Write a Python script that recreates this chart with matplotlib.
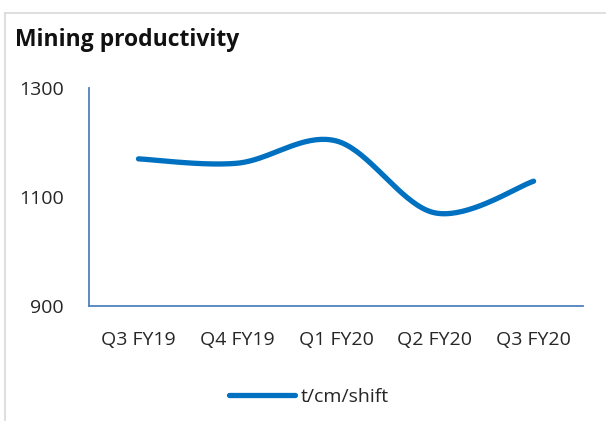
import matplotlib
matplotlib.use("Agg")
import matplotlib.pyplot as plt
from matplotlib.lines import Line2D
import numpy as np

# data
quarters = ["Q3 FY19", "Q4 FY19", "Q1 FY20", "Q2 FY20", "Q3 FY20"]
productivity = [1170, 1162, 1203, 1071, 1129]
series_label = "t/cm/shift"
y_ticks = [900, 1100, 1300]

LINE_COLOR = "#0070C0"
SPINE_COLOR = "#4F81BD"
plt.rcParams["font.family"] = ["Open Sans", "DejaVu Sans"]


def smooth_curve(xs, ys, n=40):
    """Catmull-Rom style bezier smoothing, like a spreadsheet 'smoothed line'"""
    xs = np.asarray(xs, float)
    ys = np.asarray(ys, float)
    px = np.concatenate([[xs[0]], xs, [xs[-1]]])
    py = np.concatenate([[ys[0]], ys, [ys[-1]]])
    out_x, out_y = [], []
    t = np.linspace(0, 1, n)
    for i in range(1, len(px) - 2):
        p0 = np.array([px[i], py[i]])
        p3 = np.array([px[i + 1], py[i + 1]])
        c1 = p0 + (np.array([px[i + 1], py[i + 1]]) - np.array([px[i - 1], py[i - 1]])) / 6
        c2 = p3 - (np.array([px[i + 2], py[i + 2]]) - np.array([px[i], py[i]])) / 6
        b = ((1 - t) ** 3)[:, None] * p0 + (3 * (1 - t) ** 2 * t)[:, None] * c1 \
            + (3 * (1 - t) * t ** 2)[:, None] * c2 + (t ** 3)[:, None] * p3
        out_x.extend(b[:, 0])
        out_y.extend(b[:, 1])
    return np.array(out_x), np.array(out_y)


fig = plt.figure(figsize=(6.06, 4.21), dpi=100)
ax = fig.add_axes([0.147, 0.273, 0.815, 0.518])

x = np.arange(len(quarters))
sx, sy = smooth_curve(x, productivity)
ax.plot(sx, sy, color=LINE_COLOR, lw=3.8, solid_capstyle="round", label=series_label)

ax.set_xlim(-0.5, len(quarters) - 0.5)
ax.set_ylim(y_ticks[0], y_ticks[-1])
ax.set_xticks(x)
ax.set_xticklabels(quarters)
ax.set_yticks(y_ticks)
ax.tick_params(length=0, labelsize=14, colors="#262626")
ax.tick_params(axis="y", pad=18)
ax.tick_params(axis="x", pad=18)
for side in ["top", "right"]:
    ax.spines[side].set_visible(False)
for side in ["left", "bottom"]:
    ax.spines[side].set_color(SPINE_COLOR)
    ax.spines[side].set_linewidth(1.3)

fig.text(0.025, 0.905, "Mining productivity", fontsize=16.5, fontweight="bold",
         va="center", ha="left", color="#111111")

leg = fig.legend(loc="center", bbox_to_anchor=(0.51, 0.057), frameon=False,
                 fontsize=14, handlelength=3.4, handletextpad=0.3)
for t in leg.get_texts():
    t.set_color("#262626")

# light frame around the chart (top and left edges visible)
fig.add_artist(Line2D([0.008, 1.0], [1 - 13 / 421, 1 - 13 / 421], transform=fig.transFigure,
                      color="#D9D9D9", lw=1.2))
fig.add_artist(Line2D([0.008, 0.008], [0.0, 1 - 13 / 421], transform=fig.transFigure,
                      color="#D9D9D9", lw=1.2))

fig.savefig("out.png", dpi=100)
